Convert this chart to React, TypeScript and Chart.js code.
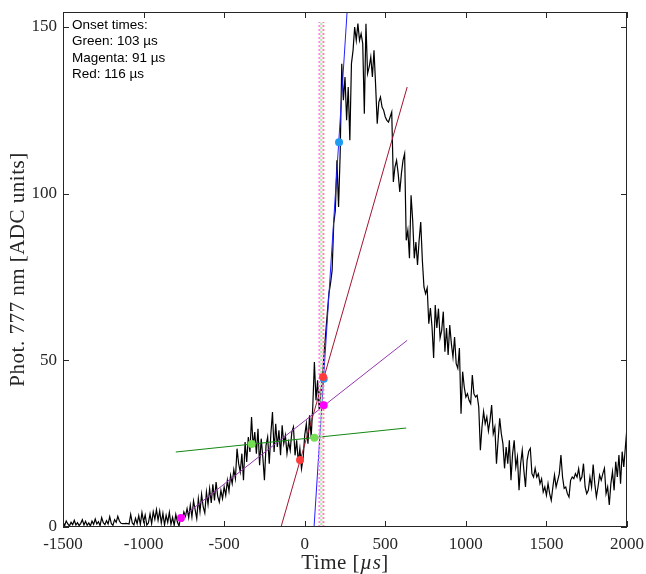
import React, { useEffect, useRef } from "react";
import { Chart, registerables } from "chart.js";

Chart.register(...registerables);

// ---- data ----
const TIME_START = -1500; // µs, first sample
const TIME_STEP = 10; // µs between samples

const signal = [
  1.5, 0.4, 1.8, 0.9, 0.3, 1.4, 0.7, 2.0, 0.6, 1.3,
  0.4, 1.1, 2.2, 0.6, 1.7, 0.5, 1.2, 0.3, 1.8, 0.8,
  2.4, 0.9, 1.6, 0.4, 2.8, 1.3, 0.7, 1.9, 0.9, 3.1,
  1.0, 0.5, 2.2, 1.4, 3.2, 1.8, 1.1, 1.0, 1.0, 1.1,
  1.0, 0.9, 3.8, 1.2, 0.6, 2.6, 1.0, 3.4, 0.8, 4.3,
  1.6, 3.6, 0.6, 1.2, 3.9, 1.0, 4.6, 2.3, 5.2, 2.0,
  4.8, 1.2, 4.1, 0.6, 3.5, 1.4, 4.4, 0.8, 2.9, 0.5,
  3.8, 1.5, 0.3, 3.0, 2.0, 4.5, 3.2, 5.5, 2.8, 6.5,
  3.0, 7.8, 5.2, 2.5, 8.5, 4.6, 9.8, 6.0, 4.2, 10.5,
  6.8, 11.5, 7.2, 12.8, 8.0, 13.5, 9.2, 7.5, 11.0, 8.5,
  12.0, 9.5, 14.0, 10.8, 15.5, 13.0, 17.2, 14.5, 23.5, 19.0,
  16.5, 22.0, 14.0, 25.5, 19.5, 27.0, 22.5, 33.0, 24.0, 28.5,
  22.0, 29.5, 18.5, 26.5, 21.0, 14.0, 24.5, 27.0, 19.0, 28.0,
  34.5, 22.5, 31.0, 24.0, 29.0, 21.5, 30.5, 25.0, 27.5, 22.0,
  25.5, 23.0, 28.5, 30.0, 21.5, 26.0, 19.5, 23.5, 17.5, 20.5,
  27.5, 31.0, 25.0, 33.5, 27.0, 36.0, 49.5, 38.0, 44.0, 35.0,
  40.0, 45.0, 52.0, 58.0, 64.0, 70.0, 73.0, 77.0, 91.0, 95.0,
  110.0, 96.0, 112.0, 139.0, 128.0, 135.0, 122.0, 132.0, 116.0, 139.0,
  143.0, 150.0, 146.0, 151.0, 146.0, 148.0, 145.0, 124.0, 151.0, 136.0,
  138.0, 141.0, 135.0, 143.0, 132.5, 121.0, 127.5, 129.0, 126.0, 125.0,
  123.0, 122.0, 121.5, 123.0, 124.5, 103.5, 108.0, 110.0, 106.0, 100.5,
  106.0, 110.0, 112.0, 86.0, 89.0, 80.6, 99.5, 92.0, 80.6, 85.5,
  78.6, 86.0, 91.5, 80.0, 72.0, 70.0, 71.7, 61.0, 65.7, 60.0,
  50.7, 66.6, 59.7, 65.5, 56.7, 59.0, 64.6, 52.6, 59.7, 51.6,
  60.6, 55.0, 51.0, 57.0, 49.0, 47.6, 53.7, 34.0, 46.6, 42.0,
  39.0, 40.0, 38.0, 37.0, 45.6, 40.0, 39.0, 39.5, 36.0, 23.0,
  30.0, 34.6, 31.0, 33.0, 28.8, 32.0, 36.6, 28.0, 30.0, 19.0,
  26.0, 32.6, 28.0, 25.0, 17.6, 24.0, 19.0, 26.0, 14.0, 22.0,
  26.0, 18.0, 21.0, 11.0, 19.0, 23.0, 17.0, 12.0, 20.0, 22.7,
  23.6, 16.0, 15.0, 17.6, 15.0, 16.0, 13.0, 14.5, 10.5, 12.0,
  9.5, 13.0, 10.0, 8.0, 12.0, 15.6, 12.0, 14.0, 16.0, 21.6,
  15.0, 11.6, 12.0, 10.0, 9.0, 14.0, 15.0, 14.5, 16.0, 15.0,
  17.5, 14.0, 15.0, 19.0, 12.0, 10.0, 11.0, 15.0, 12.0, 18.7,
  13.0, 9.0, 12.0, 15.6, 14.0, 16.0, 17.6, 10.0, 12.0, 6.6,
  13.0, 16.6, 11.0, 19.6, 15.0, 21.6, 13.0, 22.6, 18.0, 24.0,
  30.0,
];

// fitted lines (end points)
const greenFitX = [-800, 630];
const greenFitY = [22.5, 29.7];
const purpleFitX = [-768, 636];
const purpleFitY = [2.7, 56.0];
const redFitX = [-147, 636];
const redFitY = [0, 132.0];
const blueFitX = [58, 270];
const blueFitY = [0, 159.8];

// markers
const magentaPtsX = [-768, 118];
const magentaPtsY = [2.7, 36.5];
const greenPtsX = [-329, 60];
const greenPtsY = [24.9, 26.8];
const redPtsX = [-29, 114];
const redPtsY = [20.1, 45.0];
const bluePtsX = [118, 213];
const bluePtsY = [44.5, 115.4];

// onset times (µs)
const onsetGreen = 103;
const onsetMagenta = 91;
const onsetRed = 116;
const onsetTop = 151.5;

const X_TICKS = [-1500, -1000, -500, 0, 500, 1000, 1500, 2000];
const Y_TICKS = [0, 50, 100, 150];
const X_MIN = -1500;
const X_MAX = 2000;
const Y_MIN = 0;
const Y_MAX = 154.5;

const annotationLines = [
  "Onset times:",
  `Green: ${onsetGreen} µs`,
  `Magenta: ${onsetMagenta} µs`,
  `Red: ${onsetRed} µs`,
];

const pts = (xs: number[], ys: number[]) => xs.map((x, i) => ({ x, y: ys[i] }));

const SERIF = "'Liberation Serif', 'DejaVu Serif', serif";
const SANS = "'Liberation Sans', Arial, sans-serif";
const AX = "#262626";

const framePlugin = {
  id: "matlabFrame",
  afterDraw(chart: any) {
    const ctx = chart.ctx as CanvasRenderingContext2D;
    const { left, right, top, bottom } = chart.chartArea;
    const xs = chart.scales.x;
    const ys = chart.scales.y;
    ctx.save();
    ctx.strokeStyle = AX;
    ctx.lineWidth = 1;
    ctx.strokeRect(left + 0.5, top + 0.5, right - left - 1, bottom - top - 1);
    const tl = 6;
    ctx.beginPath();
    X_TICKS.forEach((v) => {
      const p = Math.round(xs.getPixelForValue(v)) + 0.5;
      ctx.moveTo(p, bottom);
      ctx.lineTo(p, bottom - tl);
      ctx.moveTo(p, top);
      ctx.lineTo(p, top + tl);
    });
    Y_TICKS.forEach((v) => {
      const p = Math.round(ys.getPixelForValue(v)) + 0.5;
      ctx.moveTo(left, p);
      ctx.lineTo(left + tl, p);
      ctx.moveTo(right, p);
      ctx.lineTo(right - tl, p);
    });
    ctx.stroke();

    // x title with italic µs
    ctx.fillStyle = AX;
    ctx.textBaseline = "middle";
    (ctx as any).letterSpacing = "0.5px";
    const segs: [string, string][] = [
      ["Time [", `21px ${SERIF}`],
      ["µs", `italic 21px ${SERIF}`],
      ["]", `21px ${SERIF}`],
    ];
    let total = 0;
    segs.forEach(([t, f]) => {
      ctx.font = f;
      total += ctx.measureText(t).width;
    });
    let cx = (left + right) / 2 - total / 2;
    ctx.textAlign = "left";
    segs.forEach(([t, f]) => {
      ctx.font = f;
      ctx.fillText(t, cx, 563);
      cx += ctx.measureText(t).width;
    });

    // y title
    ctx.save();
    ctx.translate(18, (top + bottom) / 2);
    ctx.rotate(-Math.PI / 2);
    ctx.textAlign = "center";
    ctx.textBaseline = "middle";
    ctx.font = `21px ${SERIF}`;
    ctx.fillText("Phot. 777 nm [ADC units]", 0, 0);
    ctx.restore();
    (ctx as any).letterSpacing = "0px";

    // annotation
    ctx.fillStyle = "#000";
    ctx.font = `13.5px ${SANS}`;
    ctx.textAlign = "left";
    ctx.textBaseline = "middle";
    annotationLines.forEach((t, i) => {
      ctx.fillText(t, 72, 25 + i * 16.5);
    });
    ctx.restore();
  },
};

export default function App() {
  const ref = useRef<HTMLCanvasElement | null>(null);
  useEffect(() => {
    if (!ref.current) return;
    const signalPts = signal.map((y, i) => ({ x: TIME_START + i * TIME_STEP, y }));
    const lineDs = (data: any[], color: string, order: number, extra: any = {}) => ({
      type: "line",
      data,
      borderColor: color,
      borderWidth: 1,
      pointRadius: 0,
      fill: false,
      tension: 0,
      order,
      ...extra,
    });
    const markerDs = (data: any[], color: string) => ({
      type: "scatter",
      data,
      backgroundColor: color,
      borderColor: color,
      borderWidth: 0,
      pointRadius: 4,
      showLine: false,
      order: 0,
    });
    const zeroPad = (s: any) => {
      s.paddingLeft = 0;
      s.paddingRight = 0;
      s.paddingTop = 0;
      s.paddingBottom = 0;
    };
    const chart = new Chart(ref.current, {
      type: "scatter",
      data: {
        datasets: [
          markerDs(pts(magentaPtsX, magentaPtsY), "#ff00ff"),
          markerDs(pts(greenPtsX, greenPtsY), "#77dd55"),
          markerDs(pts(redPtsX, redPtsY), "#ff3b3b"),
          markerDs(pts(bluePtsX, bluePtsY), "#1e9cf0"),
          lineDs(pts(greenFitX, greenFitY), "#118811", 2),
          lineDs(pts(purpleFitX, purpleFitY), "#9438b0", 2),
          lineDs(pts(redFitX, redFitY), "#a2142f", 2),
          lineDs(pts(blueFitX, blueFitY), "#2020ff", 2),
          lineDs(pts([onsetMagenta, onsetMagenta], [0, onsetTop]), "#ff88ee", 1, {
            borderWidth: 2,
            borderDash: [2, 2],
          }),
          lineDs(pts([onsetGreen, onsetGreen], [0, onsetTop]), "#a6eea6", 1, {
            borderWidth: 2,
            borderDash: [2, 2],
            borderDashOffset: 2,
          }),
          lineDs(pts([onsetRed, onsetRed], [0, onsetTop]), "#ff88aa", 1, {
            borderWidth: 2,
            borderDash: [2, 2],
          }),
          lineDs(signalPts, "#000000", 3, { borderWidth: 1.2 }),
        ] as any,
      },
      options: {
        animation: false,
        responsive: false,
        maintainAspectRatio: false,
        layout: { padding: { top: 12, right: 19, left: 0, bottom: 0 } },
        plugins: { legend: { display: false }, tooltip: { enabled: false } },
        scales: {
          x: {
            type: "linear",
            min: X_MIN,
            max: X_MAX,
            afterBuildTicks: (s: any) => {
              s.ticks = X_TICKS.map((value) => ({ value }));
            },
            afterFit: (s: any) => {
              s.height = 47;
              zeroPad(s);
            },
            grid: { display: false, drawTicks: false },
            border: { display: false },
            ticks: {
              color: AX,
              font: { family: SERIF, size: 17 },
              padding: 7,
              maxRotation: 0,
              autoSkip: false,
              callback: (v: any) => String(v),
            },
          },
          y: {
            type: "linear",
            min: Y_MIN,
            max: Y_MAX,
            afterBuildTicks: (s: any) => {
              s.ticks = Y_TICKS.map((value) => ({ value }));
            },
            afterFit: (s: any) => {
              s.width = 63;
              zeroPad(s);
            },
            grid: { display: false, drawTicks: false },
            border: { display: false },
            ticks: {
              color: AX,
              font: { family: SERIF, size: 17 },
              padding: 6,
              autoSkip: false,
              callback: (v: any) => String(v),
            },
          },
        },
      } as any,
      plugins: [framePlugin],
    });
    return () => chart.destroy();
  }, []);

  return (
    <div style={{ position: "absolute", left: 0, top: 0, width: 646, height: 574, background: "#fff" }}>
      <canvas ref={ref} width={646} height={574} style={{ display: "block" }} />
    </div>
  );
}
